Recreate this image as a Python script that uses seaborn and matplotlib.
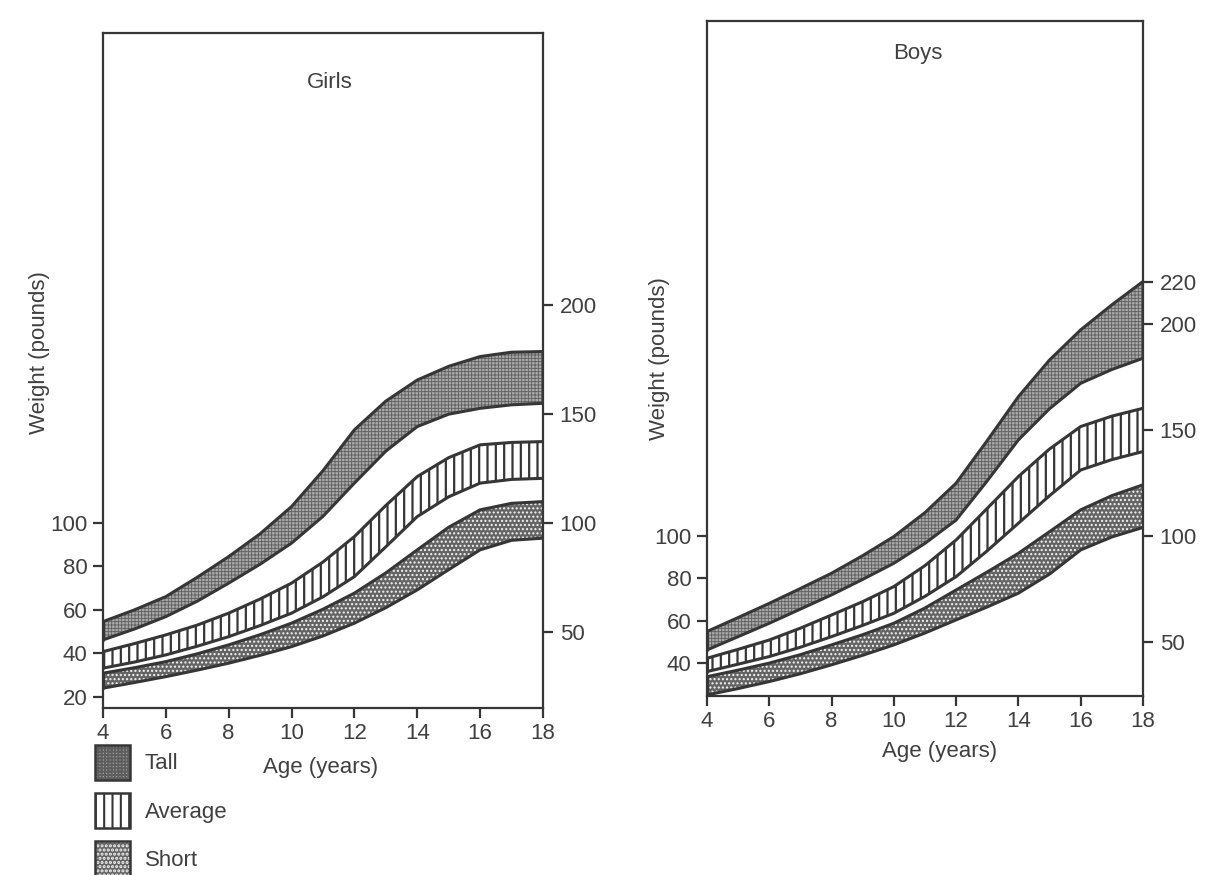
import matplotlib
matplotlib.use("Agg")
import matplotlib.pyplot as plt
import pandas as pd
import seaborn as sns
from matplotlib.patches import Patch

# Age grid (years)
ages = [4, 5, 6, 7, 8, 9, 10, 11, 12, 13, 14, 15, 16, 17, 18]

# Girls: weight ranges (pounds) for each height group
girls_tall_hi = [54.6, 60.0, 66.1, 75.0, 84.5, 95.0, 107.5, 124.0, 142.8, 156.0, 165.7, 172.0, 176.5, 178.5, 178.8]
girls_tall_lo = [46.2, 51.2, 56.9, 64.0, 72.3, 81.0, 90.7, 103.0, 118.3, 133.0, 144.3, 150.0, 152.7, 154.3, 155.0]
girls_avg_hi = [40.8, 44.5, 48.5, 53.0, 58.5, 65.0, 72.3, 82.0, 93.7, 108.0, 121.3, 130.0, 135.9, 137.0, 137.4]
girls_avg_lo = [33.2, 36.0, 39.3, 43.3, 47.7, 52.8, 58.5, 66.0, 75.3, 89.0, 102.9, 112.0, 118.3, 120.0, 120.5]
girls_short_hi = [30.9, 33.4, 36.2, 39.8, 43.9, 48.6, 53.9, 60.3, 67.7, 77.0, 87.6, 98.0, 106.0, 109.0, 109.8]
girls_short_lo = [24.0, 26.6, 29.3, 32.3, 35.5, 39.1, 43.1, 48.0, 53.9, 61.0, 69.2, 78.5, 87.6, 92.0, 93.0]

# Boys: weight ranges (pounds) for each height group
boys_tall_hi = [54.9, 61.5, 68.2, 75.2, 82.4, 90.7, 99.7, 111.0, 124.9, 145.0, 165.7, 183.0, 197.2, 209.0, 220.0]
boys_tall_lo = [46.2, 52.5, 58.8, 65.5, 72.2, 79.5, 87.1, 96.5, 107.5, 126.0, 145.3, 160.0, 172.0, 178.5, 183.8]
boys_avg_hi = [42.3, 46.5, 50.9, 56.5, 62.7, 69.0, 76.1, 86.0, 98.1, 113.0, 128.0, 141.0, 151.6, 156.5, 160.2]
boys_avg_lo = [36.0, 39.5, 43.1, 47.5, 52.5, 57.8, 63.5, 71.5, 80.8, 93.0, 106.0, 119.0, 131.1, 136.0, 139.8]
boys_short_hi = [33.6, 36.7, 40.0, 44.0, 48.6, 53.4, 58.8, 66.0, 74.5, 83.0, 91.8, 102.0, 112.3, 119.0, 124.1]
boys_short_lo = [25.0, 28.0, 31.3, 35.0, 39.2, 43.7, 48.6, 54.2, 60.4, 66.5, 73.0, 82.0, 93.4, 99.5, 104.0]

age_ticks = [4, 6, 8, 10, 12, 14, 16, 18]
girls_left_ticks = [20, 40, 60, 80, 100]
girls_right_ticks = [50, 100, 150, 200]
boys_left_ticks = [40, 60, 80, 100]
boys_right_ticks = [50, 100, 150, 200, 220]

groups = ["Tall", "Average", "Short"]

INK = "#363636"
TEXT = "#404040"
FS = 16

sns.set_theme(style="white")
plt.rcParams["font.family"] = ["Liberation Sans", "DejaVu Sans"]
plt.rcParams["hatch.linewidth"] = 1.5

band_style = {
    "Tall": dict(facecolor="#a9a9a9", hatch="+++++", edgecolor="#5e5e5e", hlw=0.6),
    "Average": dict(facecolor="white", hatch="||", edgecolor=INK, hlw=1.6),
    "Short": dict(facecolor="#646464", hatch="....", edgecolor="#f4f4f4", hlw=1.0),
}


def styled(artist, name):
    """Give a filled artist the hatch line width of its height group."""
    st = band_style[name]
    if hasattr(artist, "set_hatch_linewidth"):
        artist.set_hatch_linewidth(st["hlw"])
    return artist


fig = plt.figure(figsize=(12.1, 8.75), dpi=100)
fig.patch.set_facecolor("white")


def draw_panel(rect, title, title_xy, bands, ylim, lticks, rticks, ylabel_xy):
    ax = fig.add_axes(rect)
    ax.set_facecolor("white")
    rows = []
    for name, (hi, lo) in zip(groups, bands):
        st = band_style[name]
        with plt.rc_context({"hatch.linewidth": st["hlw"]}):
            poly = ax.fill_between(ages, lo, hi, facecolor=st["facecolor"],
                                   hatch=st["hatch"], edgecolor=st["edgecolor"],
                                   linewidth=0)
        styled(poly, name)
        for tag, vals in (("hi", hi), ("lo", lo)):
            for a, v in zip(ages, vals):
                rows.append({"age": a, "weight": v, "curve": f"{name}-{tag}"})
    df = pd.DataFrame(rows)
    sns.lineplot(data=df, x="age", y="weight", units="curve", estimator=None,
                 color=INK, linewidth=2.2, ax=ax, legend=False)
    # closing edges at both ends of each band
    for hi, lo in bands:
        ax.plot([ages[0], ages[0]], [lo[0], hi[0]], color=INK, lw=2.2)
        ax.plot([ages[-1], ages[-1]], [lo[-1], hi[-1]], color=INK, lw=2.2)

    ax.set_xlim(4, 18)
    ax.set_ylim(*ylim)
    ax.set_xticks(age_ticks)
    ax.set_yticks(lticks)
    ax.set_xlabel("")
    ax.set_ylabel("Weight (pounds)", fontsize=FS, color=TEXT)
    ax.yaxis.set_label_coords(*ylabel_xy)
    ax.tick_params(axis="both", direction="out", length=7, width=1.6,
                   colors=INK, labelcolor=TEXT, labelsize=FS, pad=4,
                   bottom=True, left=True)
    for s in ax.spines.values():
        s.set_color(INK)
        s.set_linewidth(1.6)
    ax.text(*title_xy, title, transform=ax.transAxes, ha="center", va="center",
            fontsize=FS, color=TEXT)

    ax2 = ax.twinx()
    ax2.set_ylim(*ylim)
    ax2.set_yticks(rticks)
    ax2.tick_params(axis="y", direction="out", length=7, width=1.6,
                    colors=INK, labelcolor=TEXT, labelsize=FS, pad=5, right=True)
    for s in ax2.spines.values():
        s.set_visible(False)
    ax2.grid(False)
    ax.grid(False)
    return ax


ax_g = draw_panel([0.0851, 0.1909, 0.3636, 0.7714], "Girls", (0.516, 0.927),
                  [(girls_tall_hi, girls_tall_lo), (girls_avg_hi, girls_avg_lo),
                   (girls_short_hi, girls_short_lo)],
                  (14.9, 325.3), girls_left_ticks, girls_right_ticks, (-0.12, 0.527))
ax_b = draw_panel([0.5843, 0.2046, 0.3603, 0.7714], "Boys", (0.484, 0.952),
                  [(boys_tall_hi, boys_tall_lo), (boys_avg_hi, boys_avg_lo),
                   (boys_short_hi, boys_short_lo)],
                  (24.5, 342.9), boys_left_ticks, boys_right_ticks, (-0.085, 0.50))

fig.text(321 / 1210, 1 - 768 / 875, "Age (years)", ha="center", va="center",
         fontsize=FS, color=TEXT)
fig.text(940 / 1210, 1 - 751 / 875, "Age (years)", ha="center", va="center",
         fontsize=FS, color=TEXT)

# Legend keys: textured fill overlaid with a dark outline
handles = []
for g in groups:
    st = band_style[g]
    with plt.rc_context({"hatch.linewidth": st["hlw"]}):
        fill = Patch(facecolor=st["facecolor"], hatch=st["hatch"],
                     edgecolor=st["edgecolor"], linewidth=0)
    styled(fill, g)
    outline = Patch(facecolor="none", edgecolor=INK, linewidth=1.8)
    handles.append((fill, outline))
leg = fig.legend(handles, groups, loc="upper left",
                 bbox_to_anchor=(86 / 1210, 1 - 736 / 875), borderaxespad=0,
                 frameon=False, fontsize=FS, handlelength=1.57, handleheight=2.05,
                 handletextpad=0.68, labelspacing=0.59)
for t in leg.get_texts():
    t.set_color(TEXT)

fig.savefig("out.png", dpi=100, facecolor="white")
